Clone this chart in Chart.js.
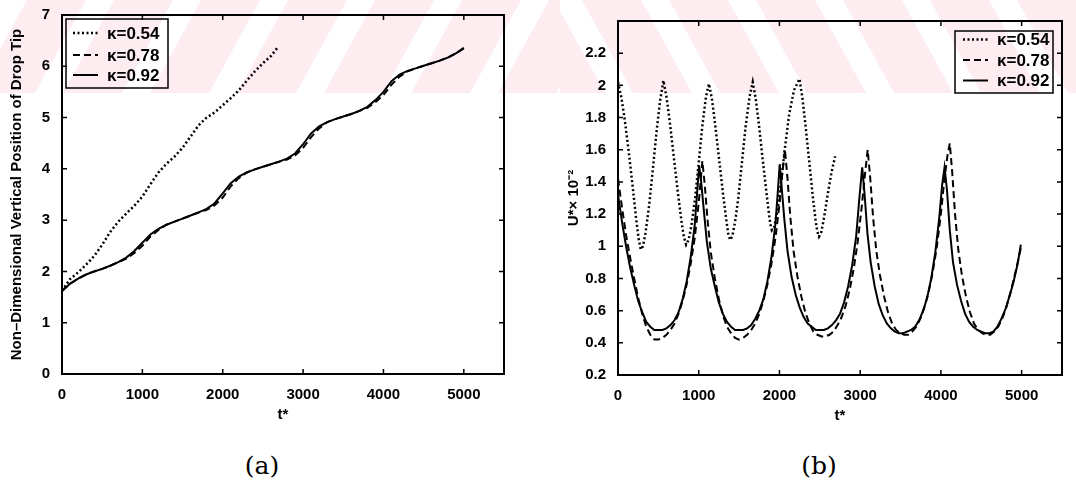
<!DOCTYPE html>
<html>
<head>
<meta charset="utf-8">
<script src="https://cdn.jsdelivr.net/npm/chart.js@4.4.1/dist/chart.umd.min.js"></script>
<style>
  html, body { margin: 0; padding: 0; background: #fff; }
  body { width: 1076px; height: 488px; position: relative; overflow: hidden; }
  canvas { position: absolute; top: 0; }
  #posChart { left: 0; }
  #velChart { left: 540px; }
  .cap { position: absolute; top: 451px; font-family: "DejaVu Serif", "Liberation Serif", serif; font-size: 25px; color: #000; transform: translateX(-50%); }
</style>
</head>
<body>
<canvas id="posChart" width="540" height="440"></canvas>
<canvas id="velChart" width="536" height="440"></canvas>
<div class="cap" style="left:262px">(a)</div>
<div class="cap" style="left:819px">(b)</div>
<script>
// (a) drop tip position vs t*
const posT = [0,100,200,300,400,500,600,700,800,900,1000,1100,1200,1300,1400,1500,1600,1700,1800,1900,2000,
  2100,2200,2300,2400,2500,2600,2700,2800,2900,3000,3100,3200,3300,3400,3500,3600,3700,3800,3900,4000,
  4100,4200,4300,4400,4500,4600,4700,4800,4900,5000]
const posK092 = [1.62,1.76,1.86,1.94,2.0,2.05,2.11,2.18,2.27,2.4,2.56,2.72,2.83,2.91,2.97,3.03,3.09,3.15,3.22,3.33,3.52,
  3.72,3.85,3.93,3.99,4.04,4.09,4.14,4.2,4.3,4.48,4.69,4.83,4.91,4.97,5.02,5.07,5.13,5.21,5.34,5.5,
  5.71,5.84,5.91,5.96,6.01,6.06,6.11,6.17,6.25,6.36]
const posK078 = [1.62,1.76,1.86,1.94,2.0,2.05,2.11,2.18,2.25,2.36,2.5,2.68,2.81,2.91,2.97,3.03,3.09,3.15,3.2,3.29,3.44,
  3.66,3.82,3.93,3.99,4.04,4.09,4.14,4.18,4.26,4.41,4.62,4.79,4.91,4.97,5.02,5.07,5.13,5.19,5.3,5.44,
  5.64,5.8,5.9,5.96,6.01,6.06,6.11,6.17,6.25,6.35]
const posT054 = [0,100,200,300,400,500,600,700,800,900,1000,1100,1200,1300,1400,1500,1600,1700,1800,1900,2000,
  2100,2200,2300,2400,2500,2600,2680]
const posK054 = [1.62,1.85,1.98,2.13,2.3,2.52,2.77,2.97,3.13,3.28,3.46,3.7,3.93,4.1,4.24,4.41,4.63,4.85,5.0,5.1,5.24,
  5.38,5.53,5.72,5.9,6.06,6.2,6.36]

// (b) drop velocity vs t*
const velT054 = [0,40,80,130,180,225,255,282,310,340,385,430,475,520,563,600,640,690,740,785,815,844,
  875,910,955,1000,1045,1090,1127,1165,1205,1255,1300,1340,1365,1387,1415,1450,1490,1535,1580,1630,1669,
  1705,1745,1790,1835,1870,1890,1906,1935,1975,2020,2070,2120,2180,2248,2285,2325,2370,2415,2450,2470,2490,
  2520,2560,2600,2645,2690]
const velK054 = [2.02,1.93,1.8,1.6,1.38,1.17,1.05,0.98,1.0,1.08,1.25,1.47,1.7,1.9,2.03,1.93,1.78,1.56,1.34,1.16,1.06,1.01,
  1.04,1.13,1.3,1.52,1.75,1.93,2.01,1.91,1.75,1.53,1.33,1.17,1.08,1.04,1.06,1.15,1.3,1.52,1.74,1.93,2.02,
  1.92,1.76,1.55,1.35,1.2,1.13,1.1,1.12,1.22,1.4,1.62,1.82,1.97,2.04,1.92,1.74,1.52,1.3,1.15,1.09,1.06,
  1.09,1.2,1.33,1.46,1.56]

const velT078 = [0,50,100,150,200,250,300,350,400,450,500,550,600,650,700,750,800,850,900,950,1000,
  1045,1075,1110,1150,
  1200,1250,1300,1350,1400,1450,1500,1550,1600,1650,1700,1750,1800,1850,1900,1950,2000,
  2035,2068,2100,2135,2175,
  2220,2270,2320,2370,2420,2470,2520,2570,2620,2670,2720,2770,2820,2870,2920,2970,
  3020,3060,3093,3125,3160,3200,
  3245,3295,3345,3395,3445,3495,3545,3595,3645,3695,3745,3795,3845,3895,3945,3995,
  4040,4080,4110,4140,4175,
  4215,4260,4310,4360,4410,4460,4510,4560,4610,4660,4710,4760,4810,4860,4910,4960,4995]
const velK078 = [1.42,1.24,1.07,0.93,0.8,0.68,0.58,0.5,0.45,0.42,0.42,0.43,0.45,0.48,0.52,0.58,0.66,0.76,0.89,1.05,1.27,
  1.53,1.38,1.16,0.96,
  0.8,0.67,0.57,0.5,0.46,0.43,0.42,0.43,0.45,0.48,0.52,0.58,0.66,0.76,0.89,1.05,1.26,
  1.45,1.6,1.42,1.18,0.97,
  0.82,0.69,0.59,0.52,0.47,0.45,0.44,0.44,0.45,0.47,0.51,0.56,0.63,0.73,0.86,1.03,
  1.25,1.45,1.6,1.42,1.18,0.97,
  0.82,0.69,0.59,0.52,0.48,0.46,0.45,0.45,0.47,0.5,0.55,0.62,0.71,0.83,0.98,1.18,
  1.4,1.56,1.64,1.46,1.2,
  0.98,0.82,0.69,0.59,0.52,0.48,0.46,0.45,0.45,0.47,0.5,0.55,0.62,0.71,0.81,0.92,1.0]

const velT092 = [0,50,100,150,200,250,300,350,400,450,500,550,600,650,700,750,800,850,900,950,
  980,1005,1030,1060,
  1100,1150,1200,1250,1300,1350,1400,1450,1500,1550,1600,1650,1700,1750,1800,1850,1900,1950,
  1980,2003,2030,2060,
  2100,2150,2200,2250,2300,2350,2400,2450,2500,2550,2600,2650,2700,2750,2800,2850,2900,2950,
  2990,3025,3055,3090,3130,
  3180,3230,3280,3330,3380,3430,3480,3530,3580,3630,3680,3730,3780,3830,3880,3930,3980,
  4015,4045,4075,4110,4150,
  4200,4250,4300,4350,4400,4450,4500,4550,4600,4650,4700,4750,4800,4850,4900,4950,4990]
const velK092 = [1.32,1.15,1.0,0.87,0.76,0.66,0.59,0.53,0.5,0.48,0.48,0.48,0.49,0.51,0.54,0.59,0.67,0.78,0.93,1.13,
  1.33,1.5,1.4,1.24,
  1.03,0.86,0.75,0.65,0.58,0.53,0.5,0.48,0.48,0.48,0.49,0.51,0.55,0.6,0.67,0.78,0.93,1.14,
  1.34,1.51,1.35,1.17,
  0.97,0.81,0.7,0.62,0.56,0.52,0.5,0.48,0.48,0.48,0.49,0.51,0.54,0.58,0.65,0.75,0.88,1.06,
  1.3,1.49,1.32,1.08,0.9,
  0.75,0.64,0.57,0.52,0.49,0.47,0.46,0.46,0.47,0.48,0.5,0.54,0.6,0.68,0.8,0.96,1.18,
  1.38,1.49,1.35,1.1,0.9,
  0.76,0.66,0.58,0.53,0.5,0.48,0.47,0.46,0.46,0.47,0.5,0.55,0.61,0.69,0.78,0.89,1.01]

const legendLabels = ['\u03ba=0.54', '\u03ba=0.78', '\u03ba=0.92']
const xTicks = [0, 1000, 2000, 3000, 4000, 5000]

const FONT = '"Liberation Sans", Arial, sans-serif'
const pts = (xs, ys) => xs.map((x, i) => ({ x: x, y: ys[i] }))

// faint pink watermark stripes in the top band, under everything
const watermark = {
  id: 'watermark',
  beforeDraw(chart, args, opts) {
    const ctx = chart.ctx
    ctx.save()
    ctx.translate(-opts.offsetX, 0)
    ctx.fillStyle = '#fdecf0'
    const h = 93, s = 51
    ctx.save()
    ctx.beginPath(); ctx.rect(0, 0, 560, h); ctx.clip()
    for (let x0 = 114 - 87 * 2; x0 < 700; x0 += 87) {
      ctx.beginPath()
      ctx.moveTo(x0, 0); ctx.lineTo(x0 + 59, 0); ctx.lineTo(x0 + 59 - s, h); ctx.lineTo(x0 - s, h)
      ctx.fill()
    }
    ctx.restore()
    ctx.save()
    ctx.beginPath(); ctx.rect(560, 0, 516, h); ctx.clip()
    for (let x0 = 582 - 87 * 2; x0 < 1150; x0 += 87) {
      ctx.beginPath()
      ctx.moveTo(x0, 0); ctx.lineTo(x0 + 59, 0); ctx.lineTo(x0 + 59 + s, h); ctx.lineTo(x0 + s, h)
      ctx.fill()
    }
    ctx.restore()
    ctx.restore()
  }
}

// matlab style box with inward ticks on all sides
const frameTicks = {
  id: 'frameTicks',
  afterDraw(chart) {
    const { ctx, chartArea: a, scales } = chart
    const len = 5
    ctx.save()
    ctx.strokeStyle = '#000'
    ctx.lineWidth = 1.5
    ctx.beginPath()
    scales.x.ticks.forEach(t => {
      const px = scales.x.getPixelForValue(t.value)
      ctx.moveTo(px, a.bottom); ctx.lineTo(px, a.bottom - len)
      ctx.moveTo(px, a.top); ctx.lineTo(px, a.top + len)
    })
    scales.y.ticks.forEach(t => {
      const py = scales.y.getPixelForValue(t.value)
      ctx.moveTo(a.left, py); ctx.lineTo(a.left + len, py)
      ctx.moveTo(a.right, py); ctx.lineTo(a.right - len, py)
    })
    ctx.stroke()
    ctx.lineWidth = 2
    ctx.strokeRect(a.left, a.top, a.right - a.left, a.bottom - a.top)
    ctx.restore()
  }
}

// boxed legend inside the axes
const boxLegend = {
  id: 'boxLegend',
  afterDraw(chart, args, o) {
    const ctx = chart.ctx
    ctx.save()
    ctx.strokeStyle = '#000'
    ctx.lineWidth = 1.5
    ctx.strokeRect(o.left, o.top, o.width, o.height)
    ctx.font = 'bold 17px ' + FONT
    ctx.textBaseline = 'middle'
    ctx.fillStyle = '#000'
    chart.data.datasets.forEach((ds, i) => {
      const y = o.top + o.rows[i]
      ctx.beginPath()
      ctx.setLineDash(ds.borderDash || [])
      ctx.lineWidth = ds.borderWidth
      ctx.moveTo(o.left + o.sample[0], y)
      ctx.lineTo(o.left + o.sample[1], y)
      ctx.stroke()
      ctx.setLineDash([])
      ctx.fillText(ds.label, o.left + o.textX, y + 1)
    })
    ctx.restore()
  }
}

const tickFont = { family: FONT, size: 15, weight: 'bold' }

function makeChart(id, datasets, yOpts, geo, legendOpts, offsetX) {
  return new Chart(document.getElementById(id), {
    type: 'line',
    data: { datasets: datasets },
    plugins: [watermark, frameTicks, boxLegend],
    options: {
      responsive: false,
      animation: false,
      layout: { padding: { left: 0, right: geo.padRight, top: geo.padTop, bottom: 0 } },
      elements: { point: { radius: 0 }, line: { tension: 0, borderColor: '#000', fill: false } },
      plugins: {
        legend: { display: false },
        tooltip: { enabled: false },
        watermark: { offsetX: offsetX },
        boxLegend: legendOpts
      },
      scales: {
        x: {
          type: 'linear',
          min: 0, max: 5500,
          afterBuildTicks: s => { s.ticks = xTicks.map(v => ({ value: v })) },
          afterFit: s => { s.height = geo.xHeight },
          grid: { display: false },
          border: { display: false },
          ticks: { color: '#000', font: tickFont, padding: 4, maxRotation: 0, callback: v => String(v) },
          title: { display: true, text: 't*', color: '#000', font: tickFont, padding: { top: 0, bottom: geo.xTitlePad } }
        },
        y: {
          type: 'linear',
          min: yOpts.min, max: yOpts.max,
          afterBuildTicks: s => { s.ticks = yOpts.ticks.map(v => ({ value: v })) },
          afterFit: s => { s.width = geo.yWidth },
          grid: { display: false },
          border: { display: false },
          ticks: { color: '#000', font: tickFont, padding: 4, callback: v => String(Math.round(v * 10) / 10) },
          title: { display: true, text: yOpts.title, color: '#000', font: tickFont, padding: { top: geo.yTitlePad, bottom: 0 } }
        }
      }
    }
  })
}

const dotted = { borderDash: [2, 2.5], borderWidth: 2.5 }
const dashed = { borderDash: [7, 4], borderWidth: 2 }
const solid = { borderDash: [], borderWidth: 2 }

makeChart('posChart', [
  Object.assign({ label: legendLabels[0], data: pts(posT054, posK054) }, dotted),
  Object.assign({ label: legendLabels[1], data: pts(posT, posK078) }, dashed),
  Object.assign({ label: legendLabels[2], data: pts(posT, posK092) }, solid)
], {
  min: 0, max: 7, ticks: [0, 1, 2, 3, 4, 5, 6, 7],
  title: 'Non\u2013Dimensional Vertical Position of Drop Tip'
}, { padRight: 36, padTop: 15, xHeight: 66, yWidth: 62, xTitlePad: 16, yTitlePad: 8 },
{ left: 66, top: 19, width: 102, height: 69, rows: [14, 36, 56], sample: [7, 32], textX: 41 }, 0)

makeChart('velChart', [
  Object.assign({ label: legendLabels[0], data: pts(velT054, velK054) }, dotted),
  Object.assign({ label: legendLabels[1], data: pts(velT078, velK078) }, dashed),
  Object.assign({ label: legendLabels[2], data: pts(velT092, velK092) }, solid)
], {
  min: 0.2, max: 2.4, ticks: [0.2, 0.4, 0.6, 0.8, 1, 1.2, 1.4, 1.6, 1.8, 2, 2.2],
  title: 'U*\u00d7 10\u207b\u00b2'
}, { padRight: 14, padTop: 21, xHeight: 65, yWidth: 78, xTitlePad: 15, yTitlePad: 25 },
{ left: 415, top: 31, width: 98, height: 62, rows: [8.5, 29, 49.5], sample: [8, 33], textX: 42 }, 540)
</script>
</body>
</html>
